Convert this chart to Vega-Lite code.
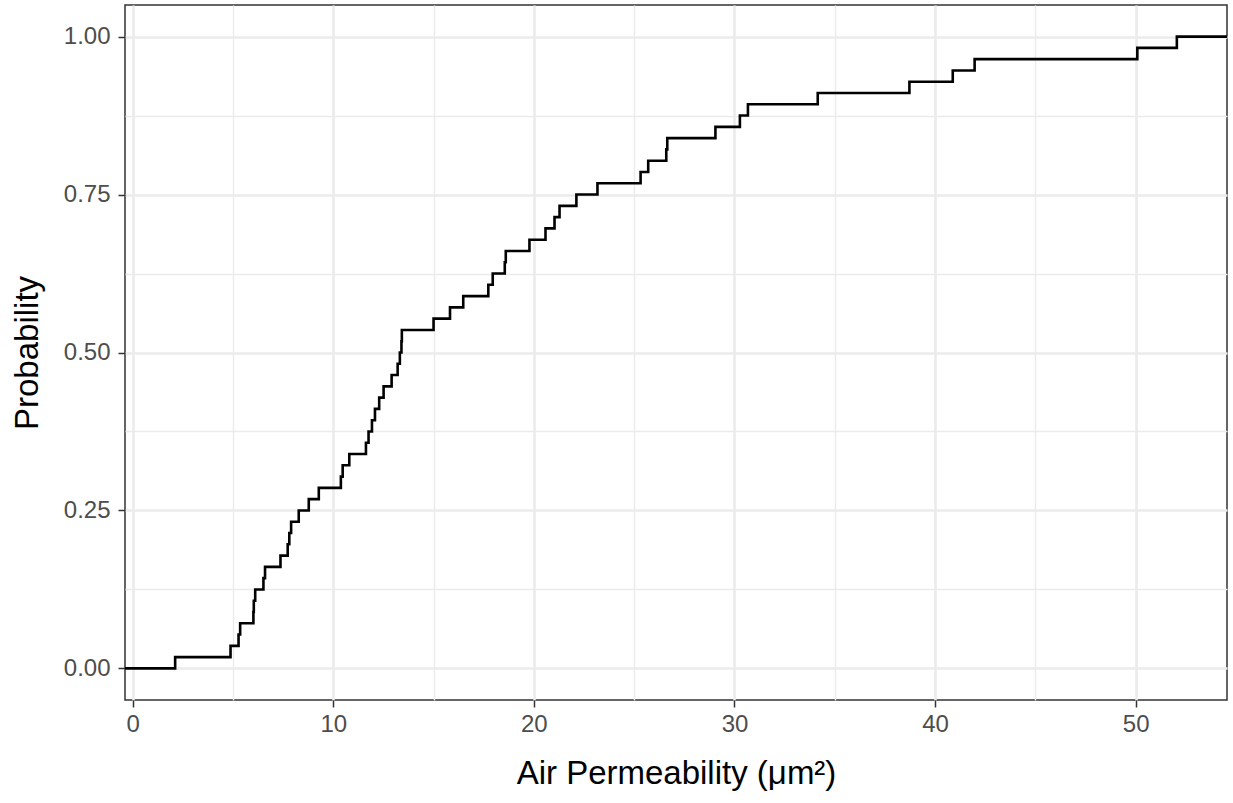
{
  "$schema": "https://vega.github.io/schema/vega-lite/v6.json",
  "autosize": "none",
  "width": 1102,
  "height": 695,
  "padding": {"left": 125, "top": 5, "right": 6, "bottom": 103},
  "background": "white",
  "config": {
    "view": {"stroke": "#333333", "strokeWidth": 1.5},
    "font": "Liberation Sans",
    "axis": {"labelFont": "Liberation Sans", "titleFont": "Liberation Sans"}
  },
  "data": {
    "values": [
      {"x": -0.38, "p": 0},
      {"x": 2.12, "p": 0.01786},
      {"x": 4.88, "p": 0.03571},
      {"x": 5.28, "p": 0.05357},
      {"x": 5.36, "p": 0.07143},
      {"x": 6.02, "p": 0.08929},
      {"x": 6.04, "p": 0.10714},
      {"x": 6.11, "p": 0.125},
      {"x": 6.52, "p": 0.14286},
      {"x": 6.6, "p": 0.16071},
      {"x": 7.37, "p": 0.17857},
      {"x": 7.73, "p": 0.19643},
      {"x": 7.81, "p": 0.21429},
      {"x": 7.9, "p": 0.23214},
      {"x": 8.28, "p": 0.25},
      {"x": 8.78, "p": 0.26786},
      {"x": 9.28, "p": 0.28571},
      {"x": 10.38, "p": 0.30357},
      {"x": 10.47, "p": 0.32143},
      {"x": 10.8, "p": 0.33929},
      {"x": 11.63, "p": 0.35714},
      {"x": 11.76, "p": 0.375},
      {"x": 11.93, "p": 0.39286},
      {"x": 12.08, "p": 0.41071},
      {"x": 12.29, "p": 0.42857},
      {"x": 12.51, "p": 0.44643},
      {"x": 12.91, "p": 0.46429},
      {"x": 13.21, "p": 0.48214},
      {"x": 13.32, "p": 0.5},
      {"x": 13.4, "p": 0.51786},
      {"x": 13.42, "p": 0.53571},
      {"x": 15.0, "p": 0.55357},
      {"x": 15.82, "p": 0.57143},
      {"x": 16.48, "p": 0.58929},
      {"x": 17.73, "p": 0.60714},
      {"x": 17.95, "p": 0.625},
      {"x": 18.55, "p": 0.64286},
      {"x": 18.6, "p": 0.66071},
      {"x": 19.78, "p": 0.67857},
      {"x": 20.58, "p": 0.69643},
      {"x": 21.03, "p": 0.71429},
      {"x": 21.28, "p": 0.73214},
      {"x": 22.12, "p": 0.75},
      {"x": 23.17, "p": 0.76786},
      {"x": 25.32, "p": 0.78571},
      {"x": 25.7, "p": 0.80357},
      {"x": 26.6, "p": 0.82143},
      {"x": 26.65, "p": 0.83929},
      {"x": 29.05, "p": 0.85714},
      {"x": 30.27, "p": 0.875},
      {"x": 30.67, "p": 0.89286},
      {"x": 34.15, "p": 0.91071},
      {"x": 38.72, "p": 0.92857},
      {"x": 40.88, "p": 0.94643},
      {"x": 41.97, "p": 0.96429},
      {"x": 50.08, "p": 0.98214},
      {"x": 52.05, "p": 1.0},
      {"x": 54.55, "p": 1.0}
    ]
  },
  "resolve": {"axis": {"x": "independent", "y": "independent"}},
  "layer": [
    {
      "mark": {"type": "line", "interpolate": "step-after", "opacity": 0, "clip": true},
      "encoding": {
        "x": {
          "field": "x", "type": "quantitative",
          "scale": {"domain": [-0.38, 54.55], "nice": false, "zero": false},
          "axis": {
            "orient": "bottom", "values": [5, 15, 25, 35, 45],
            "grid": true, "gridColor": "#EBEBEB", "gridWidth": 1.4,
            "labels": false, "ticks": false, "domain": false, "title": null
          }
        },
        "y": {
          "field": "p", "type": "quantitative",
          "scale": {"domain": [-0.05, 1.05], "nice": false, "zero": false},
          "axis": {
            "orient": "left", "values": [0.125, 0.375, 0.625, 0.875],
            "grid": true, "gridColor": "#EBEBEB", "gridWidth": 1.4,
            "labels": false, "ticks": false, "domain": false, "title": null
          }
        }
      }
    },
    {
      "mark": {"type": "line", "interpolate": "step-after", "color": "black", "strokeWidth": 2.6, "clip": true},
      "encoding": {
        "x": {
          "field": "x", "type": "quantitative",
          "scale": {"domain": [-0.38, 54.55], "nice": false, "zero": false},
          "axis": {
            "orient": "bottom", "values": [0, 10, 20, 30, 40, 50], "format": "d",
            "grid": true, "gridColor": "#EBEBEB", "gridWidth": 2.6,
            "domain": false,
            "ticks": true, "tickSize": 7, "tickWidth": 1.5, "tickColor": "#333333",
            "labelFontSize": 24, "labelColor": "#4D4D4D", "labelPadding": 5,
            "title": "Air Permeability (μm²)", "titleFontSize": 33, "titleFontWeight": "normal",
            "titleColor": "black", "titlePadding": 21
          }
        },
        "y": {
          "field": "p", "type": "quantitative",
          "scale": {"domain": [-0.05, 1.05], "nice": false, "zero": false},
          "axis": {
            "orient": "left", "values": [0, 0.25, 0.5, 0.75, 1], "format": ".2f",
            "grid": true, "gridColor": "#EBEBEB", "gridWidth": 2.6,
            "domain": false,
            "ticks": true, "tickSize": 7, "tickWidth": 1.5, "tickColor": "#333333",
            "labelFontSize": 24, "labelColor": "#4D4D4D", "labelPadding": 8,
            "title": "Probability", "titleFontSize": 33, "titleFontWeight": "normal",
            "titleColor": "black", "titlePadding": 19
          }
        }
      }
    }
  ]
}
